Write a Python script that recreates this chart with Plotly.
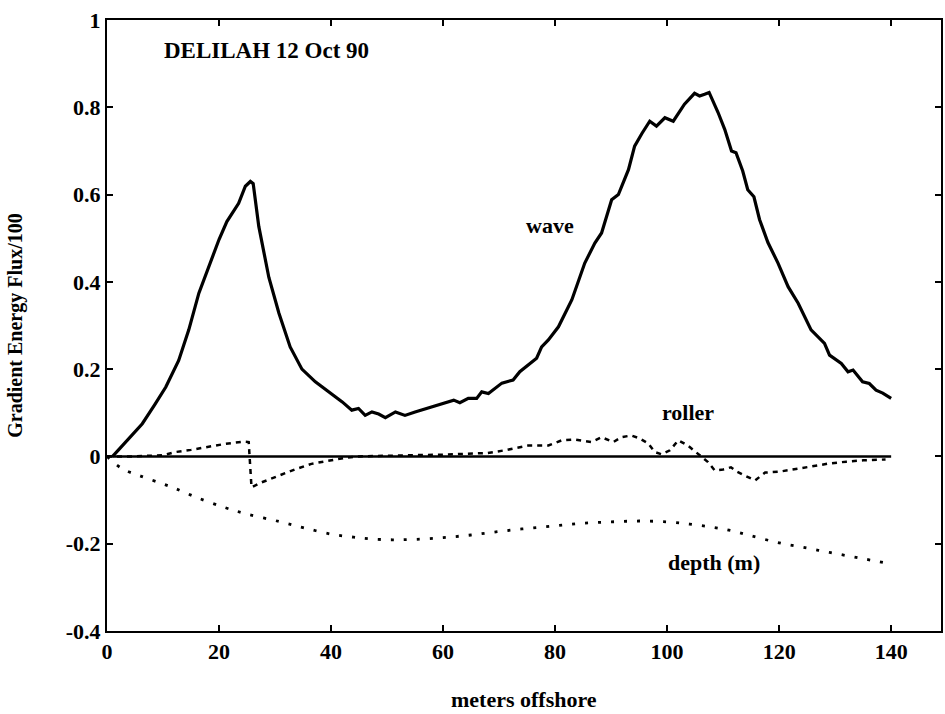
import plotly.graph_objects as go

# ---- data ----
wave_x = [1, 3.5, 6.3, 8.5, 10.5, 12.8, 14.6, 16.4, 18.2, 20, 21.4, 22.5, 23.5, 24.7, 25.6, 26.1,
          27.1, 28.9, 30.7, 32.7, 34.8, 37.2, 40.1, 42, 43.7, 44.9, 46.1, 47.3, 48.5, 49.7, 51.5,
          53.2, 55, 57.4, 60.4, 61.9, 63, 64.5, 66, 66.9, 68.1, 70.5, 72.5, 73.7, 76.7, 77.6, 78.8,
          80.6, 83, 85.3, 87.1, 88.3, 90.1, 91.3, 93.1, 94.2, 95.5, 96.9, 98.1, 99.6, 101.1, 103.1,
          104.9, 105.8, 106.7, 107.5, 109.1, 110.3, 111.5, 112.3, 113.5, 114.4, 115.5, 116.5, 118,
          119.8, 121.6, 123.4, 125.7, 128.1, 129, 131.1, 132.3, 133.2, 134.9, 136.1, 137.3, 138.5, 140]
wave_y = [0, 0.035, 0.075, 0.118, 0.159, 0.22, 0.29, 0.374, 0.435, 0.497, 0.538, 0.56, 0.58, 0.619,
          0.63, 0.625, 0.527, 0.41, 0.328, 0.251, 0.2, 0.171, 0.144, 0.125, 0.106, 0.11, 0.094, 0.102,
          0.097, 0.089, 0.102, 0.094, 0.102, 0.112, 0.123, 0.129, 0.123, 0.133, 0.133, 0.148, 0.144,
          0.168, 0.175, 0.194, 0.225, 0.251, 0.267, 0.297, 0.359, 0.443, 0.489, 0.512, 0.588, 0.6,
          0.657, 0.711, 0.74, 0.768, 0.757, 0.776, 0.768, 0.807, 0.832, 0.826, 0.83, 0.834, 0.788,
          0.749, 0.70, 0.696, 0.654, 0.611, 0.595, 0.543, 0.49, 0.443, 0.389, 0.351, 0.29, 0.259,
          0.232, 0.213, 0.194, 0.198, 0.171, 0.167, 0.152, 0.145, 0.133]

roller_x = [0, 5, 10, 12.2, 15, 17.6, 21.2, 24.4, 25.3, 25.8, 27.5, 30.7, 33.5, 36.5, 39.5, 42.6,
            45, 50, 55, 60, 65, 68, 71, 75.2, 78.8, 81.2, 83.5, 86.5, 88.3, 90.4, 91.8, 93.6, 95,
            96.6, 97.8, 99, 100.5, 102, 103.7, 105.5, 107.3, 108.5, 110, 111.4, 112.5, 113.9, 115.7,
            117.5, 120, 123.4, 126, 129, 132, 135, 139]
roller_y = [0, 0, 0.003, 0.01, 0.015, 0.021, 0.029, 0.034, 0.033, -0.071, -0.06, -0.044, -0.03,
            -0.017, -0.01, -0.003, 0, 0.002, 0.003, 0.004, 0.006, 0.008, 0.014, 0.025, 0.025, 0.037,
            0.039, 0.033, 0.044, 0.033, 0.044, 0.048, 0.042, 0.03, 0.01, 0.005, 0.014, 0.037, 0.025,
            0.007, -0.013, -0.032, -0.03, -0.025, -0.035, -0.044, -0.055, -0.037, -0.035, -0.028,
            -0.022, -0.016, -0.012, -0.009, -0.007]

depth_x = [0, 2.7, 6, 10, 12.3, 16, 21, 25, 30.7, 35, 40, 44, 47, 51, 55, 60, 65, 70, 75, 80, 85,
           90, 95, 100, 104, 108, 111.4, 115, 120, 125, 129, 134, 139]
depth_y = [0, -0.028, -0.045, -0.063, -0.074, -0.094, -0.117, -0.132, -0.149, -0.163, -0.178,
           -0.185, -0.189, -0.191, -0.19, -0.186, -0.18, -0.172, -0.165, -0.159, -0.153, -0.15,
           -0.148, -0.15, -0.155, -0.162, -0.17, -0.182, -0.198, -0.21, -0.22, -0.232, -0.244]

zero_x = [0, 140]
zero_y = [0, 0]

x_ticks = [0, 20, 40, 60, 80, 100, 120, 140]
y_ticks = [-0.4, -0.2, 0, 0.2, 0.4, 0.6, 0.8, 1]
y_tick_text = ["-0.4", "-0.2", "0", "0.2", "0.4", "0.6", "0.8", "1"]

FONT = "Liberation Serif"

fig = go.Figure()
fig.add_trace(go.Scatter(x=zero_x, y=zero_y, mode="lines", line=dict(color="black", width=2.5)))
fig.add_trace(go.Scatter(x=depth_x, y=depth_y, mode="lines", line_shape="spline",
                         line=dict(color="black", width=2.8, dash="3px,10px")))
fig.add_trace(go.Scatter(x=roller_x, y=roller_y, mode="lines",
                         line=dict(color="black", width=2.5, dash="5px,5px")))
fig.add_trace(go.Scatter(x=wave_x, y=wave_y, mode="lines", line=dict(color="black", width=3.2)))

axis_common = dict(showgrid=False, zeroline=False, showline=True, linecolor="black", linewidth=2,
                   mirror="ticks", ticks="inside", ticklen=6, tickwidth=2, tickcolor="black",
                   tickfont=dict(family=FONT, size=22, color="black", weight="bold"))

fig.update_xaxes(range=[0, 148.9], tickvals=x_ticks, ticktext=[str(v) for v in x_ticks],
                 **axis_common)
fig.update_yaxes(range=[-0.4, 1.0], tickvals=y_ticks, ticktext=y_tick_text, **axis_common)

ann_font = dict(family=FONT, size=22, color="black")
annotations = [
    dict(text="<b>DELILAH 12 Oct 90</b>", x=9.8, y=0.929, xanchor="left", yanchor="middle",
         font=dict(family=FONT, size=23, color="black")),
    dict(text="<b>wave</b>", x=79.1, y=0.53, font=ann_font),
    dict(text="<b>roller</b>", x=103.8, y=0.10, font=ann_font),
    dict(text="<b>depth (m)</b>", x=108.3, y=-0.244, font=ann_font),
]
for a in annotations:
    a.update(xref="x", yref="y", showarrow=False)
    fig.add_annotation(**a)

fig.add_annotation(text="<b>meters offshore</b>", xref="paper", yref="paper", x=0.5, y=-0.112,
                   xanchor="center", yanchor="middle", showarrow=False,
                   font=dict(family=FONT, size=22, color="black"))
fig.add_annotation(text="<b>Gradient Energy Flux/100</b>", xref="paper", yref="paper",
                   x=-0.11, y=0.5, textangle=-90, xanchor="center", yanchor="middle",
                   showarrow=False, font=dict(family=FONT, size=20, color="black"))

fig.update_layout(width=945, height=714, showlegend=False, plot_bgcolor="white",
                  paper_bgcolor="white", margin=dict(l=107, r=2, t=20, b=83))

fig.write_html("out.html")
